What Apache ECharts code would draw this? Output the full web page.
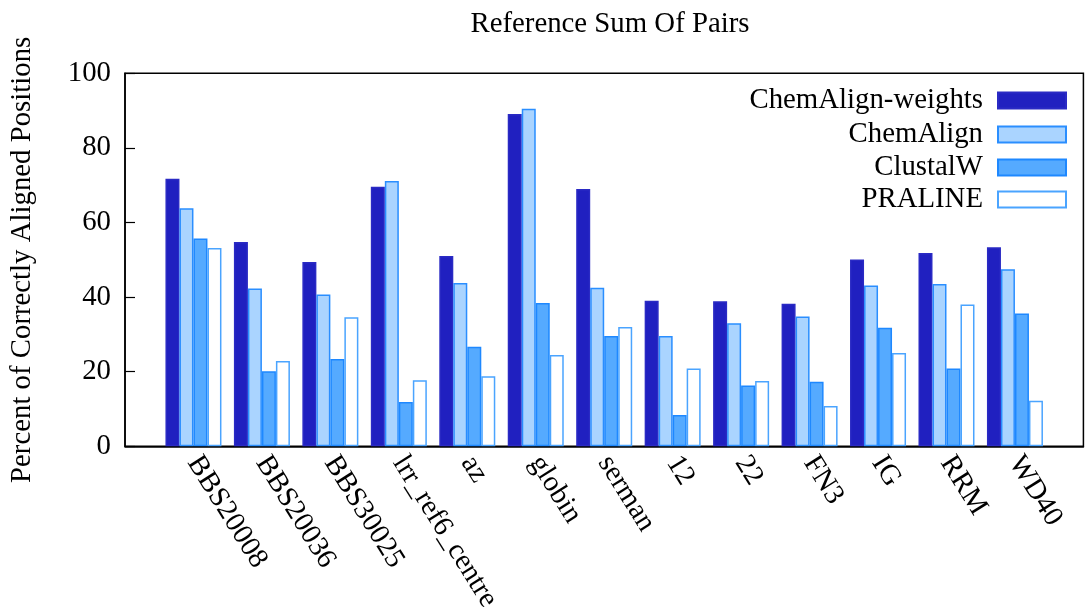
<!DOCTYPE html>
<html>
<head>
<meta charset="utf-8">
<script src="https://cdn.jsdelivr.net/npm/echarts@6/dist/echarts.min.js"></script>
<style>
html,body{margin:0;padding:0;background:#fff;}
#chart{width:1085px;height:615px;}
</style>
</head>
<body>
<div id="chart"></div>
<script>
var categories = ['', 'BBS20008', 'BBS20036', 'BBS30025', 'lrr_ref6_centre', 'az', 'globin', 'serman', '12', '22', 'FN3', 'IG', 'RRM', 'WD40', ''];
var chemAlignWeights = [null, 71.7, 54.8, 49.4, 69.6, 51.0, 89.1, 69.0, 39.0, 38.9, 38.2, 50.1, 51.8, 53.4, null];
var chemAlign        = [null, 63.8, 42.3, 40.7, 71.1, 43.8, 90.5, 42.5, 29.6, 33.0, 34.8, 43.1, 43.5, 47.5, null];
var clustalW         = [null, 55.7, 20.1, 23.4, 11.9, 26.7, 38.4, 29.6, 8.4, 16.3, 17.3, 31.8, 20.9, 35.6, null];
var praline          = [null, 53.2, 22.9, 34.6, 17.7, 18.8, 24.5, 32.0, 20.9, 17.5, 10.8, 25.0, 38.0, 12.2, null];
var yTicks = [0, 20, 40, 60, 80, 100];

var FONT = 'Liberation Serif';
var FS = 28.8;
var seriesDefs = [
  {name: 'ChemAlign-weights', data: chemAlignWeights, color: '#2020c0', border: '#2a2ac4'},
  {name: 'ChemAlign', data: chemAlign, color: '#aad4ff', border: '#2a8eff'},
  {name: 'ClustalW', data: clustalW, color: '#55aaff', border: '#1e88ff'},
  {name: 'PRALINE', data: praline, color: '#ffffff', border: '#4aa4ff'}
];
var rowCenters = [100, 134, 167, 199];

var chart = echarts.init(document.getElementById('chart'));
var option = {
  animation: false,
  backgroundColor: '#fff',
  title: {
    text: 'Reference Sum Of Pairs',
    left: 605,
    textAlign: 'center',
    top: 5,
    textStyle: {fontFamily: FONT, fontSize: FS, fontWeight: 'normal', color: '#000'}
  },
  legend: seriesDefs.map(function (s, i) {
    return {
      data: [{name: s.name, icon: 'rect'}],
      orient: 'vertical',
      right: 18,
      top: rowCenters[i] - 14,
      align: 'right',
      itemWidth: 68,
      itemHeight: 16,
      selectedMode: false,
      padding: 0,
      textStyle: {fontFamily: FONT, fontSize: FS, color: '#000', lineHeight: 28, padding: [0, 10, 0, 0]}
    };
  }),
  grid: {
    left: 123.5, top: 73.3, bottom: 165, right: -9.2,
    show: true, borderColor: '#000', borderWidth: 1.5, backgroundColor: 'transparent'
  },
  xAxis: {
    type: 'category',
    data: categories,
    boundaryGap: false,
    axisLine: {lineStyle: {color: '#000', width: 1.5}},
    axisTick: {show: false},
    axisLabel: {
      interval: 0, rotate: -58, margin: 12,
      fontFamily: FONT, fontSize: FS, color: '#000'
    },
    splitLine: {show: false}
  },
  yAxis: {
    type: 'value',
    min: yTicks[0], max: yTicks[yTicks.length - 1], interval: 20,
    name: 'Percent of Correctly Aligned Positions',
    nameLocation: 'middle',
    nameGap: 88,
    nameTextStyle: {fontFamily: FONT, fontSize: FS, color: '#000'},
    axisLine: {show: true, lineStyle: {color: '#000', width: 1.5}},
    axisTick: {show: true, inside: true, length: 10, lineStyle: {color: '#000', width: 1.2}},
    axisLabel: {margin: 14, fontFamily: FONT, fontSize: FS, color: '#000'},
    splitLine: {show: false}
  },
  series: seriesDefs.map(function (s) {
    return {
      name: s.name,
      type: 'bar',
      data: s.data,
      barWidth: 14,
      barGap: '0%',
      itemStyle: {color: s.color, borderColor: s.border, borderWidth: 1.5},
      emphasis: {disabled: true}
    };
  })
};
chart.setOption(option);
</script>
</body>
</html>
